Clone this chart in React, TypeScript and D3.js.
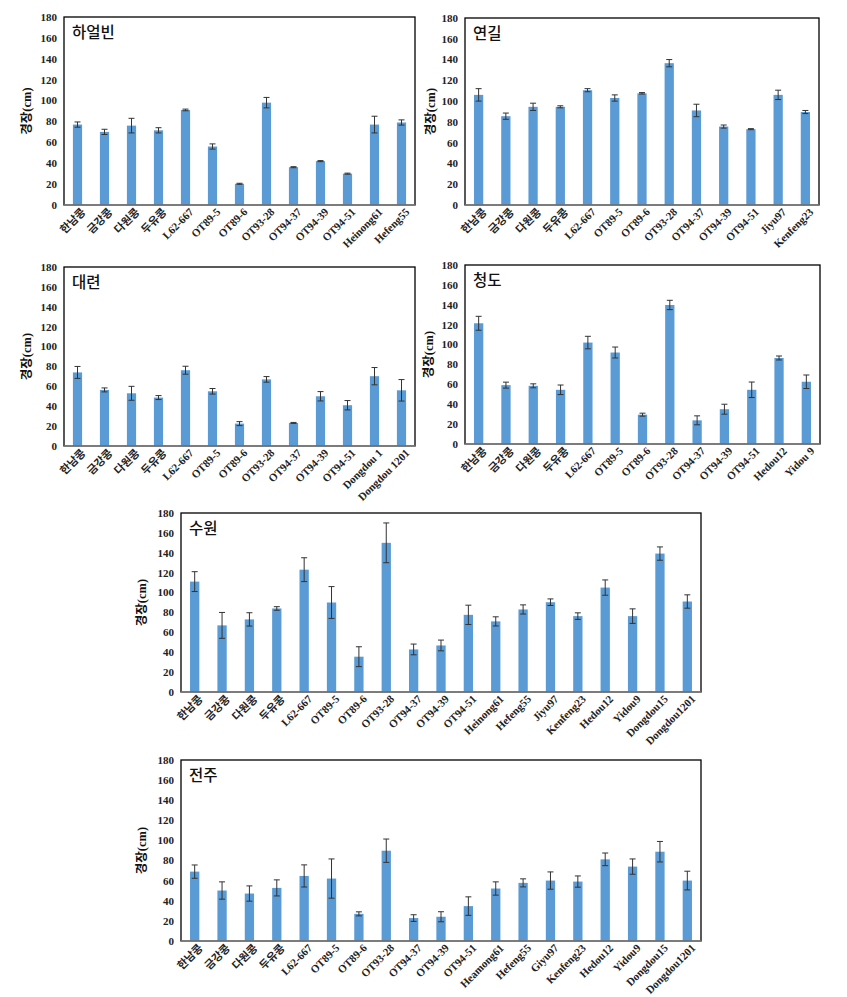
import React from "react";
import * as d3 from "d3";

const yTicks = [0, 20, 40, 60, 80, 100, 120, 140, 160, 180];

const cats1 = ["한남콩", "금강콩", "다원콩", "두유콩", "L62-667", "OT89-5", "OT89-6", "OT93-28", "OT94-37", "OT94-39", "OT94-51", "Heinong61", "Hefeng55"];
const vals1 = [77, 70, 76, 71.5, 91, 56, 20.3, 98, 36.2, 42, 30, 77, 79];
const errs1 = [2.5, 2.5, 7, 2.5, 0.8, 2.5, 0.5, 5, 0.5, 0.5, 0.5, 8, 2.5];

const cats2 = ["한남콩", "금강콩", "다원콩", "두유콩", "L62-667", "OT89-5", "OT89-6", "OT93-28", "OT94-37", "OT94-39", "OT94-51", "Jiyu97", "Kenfeng23"];
const vals2 = [106, 85.5, 94.5, 94.5, 110.5, 103, 107.5, 136.5, 91, 75.5, 73, 106, 89.5];
const errs2 = [6, 3, 3.5, 1, 1.5, 3, 0.7, 3.5, 6, 1.5, 0.5, 4.5, 1.5];

const cats3 = ["한남콩", "금강콩", "다원콩", "두유콩", "L62-667", "OT89-5", "OT89-6", "OT93-28", "OT94-37", "OT94-39", "OT94-51", "Dongdou 1", "Dongdou 1201"];
const vals3 = [74, 56.4, 53, 48.7, 76.2, 55, 22.5, 67, 23.2, 50, 41, 70.2, 56];
const errs3 = [6, 2, 7, 2, 4, 2.8, 2, 2.8, 0.5, 4.7, 4.7, 8.7, 10.8];

const cats4 = ["한남콩", "금강콩", "다원콩", "두유콩", "L62-667", "OT89-5", "OT89-6", "OT93-28", "OT94-37", "OT94-39", "OT94-51", "Hedou12", "Yidou 9"];
const vals4 = [121.4, 59.2, 58.5, 54.5, 102, 92, 29.5, 139.8, 23.8, 35, 54.5, 86.5, 62.6];
const errs4 = [7, 3, 2, 4.8, 6.3, 5.5, 1.5, 4.7, 4.5, 5, 7.8, 2, 6.8];

const cats5 = ["한남콩", "금강콩", "다원콩", "두유콩", "L62-667", "OT89-5", "OT89-6", "OT93-28", "OT94-37", "OT94-39", "OT94-51", "Heinong61", "Hefeng55", "Jiyu97", "Kenfeng23", "Hedou12", "Yidou9", "Dongdou15", "Dongdou1201"];
const vals5 = [111, 67, 73, 84, 123, 90, 35.5, 150, 42.8, 46.8, 77.6, 71, 83, 90.3, 76.3, 105, 76.3, 139.2, 91];
const errs5 = [10, 13, 6.7, 1.8, 12, 16, 10, 20, 5.4, 5.4, 9.7, 4.6, 4.6, 3.3, 3.3, 7.7, 7.3, 6.7, 6.7];

const cats6 = ["한남콩", "금강콩", "다원콩", "두유콩", "L62-667", "OT89-5", "OT89-6", "OT93-28", "OT94-37", "OT94-39", "OT94-51", "Heamong61", "Hefeng55", "Giyu97", "Kenfeng23", "Hedou12", "Yidou9", "Dongdou15", "Dongdou1201"];
const vals6 = [69, 50.2, 47.2, 52.8, 64.7, 62.1, 27, 89.8, 22.8, 24.1, 34.7, 52.2, 57.8, 60.1, 59.1, 81.2, 74, 88.8, 60.1];
const errs6 = [6.6, 8.6, 7.6, 8, 11, 19.5, 2, 11.6, 3.3, 5, 9.2, 6.6, 4, 8.6, 5.6, 6.3, 7.6, 10.2, 9.3];

const titles = ["하얼빈", "연길", "대련", "청도", "수원", "전주"];
const yLabel = "경장(cm)";

const panels = [
  { title: titles[0], cats: cats1, vals: vals1, errs: errs1, x: 64, y: 17, w: 351, h: 188, lx: 27 },
  { title: titles[1], cats: cats2, vals: vals2, errs: errs2, x: 465, y: 18, w: 354, h: 187, lx: 431 },
  { title: titles[2], cats: cats3, vals: vals3, errs: errs3, x: 64, y: 267, w: 351, h: 179, lx: 27 },
  { title: titles[3], cats: cats4, vals: vals4, errs: errs4, x: 465, y: 265, w: 355, h: 179, lx: 429 },
  { title: titles[4], cats: cats5, vals: vals5, errs: errs5, x: 181, y: 513, w: 520, h: 179, lx: 142 },
  { title: titles[5], cats: cats6, vals: vals6, errs: errs6, x: 181, y: 760, w: 520, h: 181, lx: 142 },
];

const BAR = "#5B9BD5";
const serif = "'Liberation Serif', 'Times New Roman', 'Noto Sans CJK KR', serif";
const sans = "'Noto Sans CJK KR', 'Noto Sans', sans-serif";

function Panel({ p }: { p: any }) {
  const x = d3.scaleBand<string>().domain(p.cats).range([0, p.w]).paddingInner(0.66).paddingOuter(0.33);
  const y = d3.scaleLinear().domain([0, 180]).range([p.h, 0]);
  const bw = x.bandwidth();
  return (
    <g transform={`translate(${p.x},${p.y})`}>
      {p.cats.map((c: string, i: number) => {
        const v = p.vals[i];
        const e = p.errs[i];
        const cx = (x(c) as number) + bw / 2;
        return (
          <g key={c + i}>
            <rect x={x(c)} y={y(v)} width={bw} height={p.h - y(v)} fill={BAR} />
            <line x1={cx} x2={cx} y1={y(v + e)} y2={y(v - e)} stroke="#333" strokeWidth={1} />
            <line x1={cx - 3} x2={cx + 3} y1={y(v + e)} y2={y(v + e)} stroke="#333" strokeWidth={1} />
            <line x1={cx - 3} x2={cx + 3} y1={y(v - e)} y2={y(v - e)} stroke="#333" strokeWidth={1} />
          </g>
        );
      })}
      <rect x={0} y={0} width={p.w} height={p.h} fill="none" stroke="#000" strokeWidth={1.3} />
      <line x1={0} x2={p.w} y1={p.h} y2={p.h} stroke="#888" strokeWidth={1.3} />
      {yTicks.map((t) => (
        <text key={t} x={-7} y={y(t)} dy="0.35em" textAnchor="end" fontFamily={serif} fontWeight="bold" fontSize={11} fill="#222">
          {t}
        </text>
      ))}
      {p.cats.map((c: string, i: number) => {
        const cx = (x(c) as number) + bw / 2 + 6;
        return (
          <text key={"l" + i} transform={`translate(${cx},${p.h + 5}) rotate(-45)`} textAnchor="end" dy="0.35em" fontFamily={serif} fontWeight="bold" fontSize={11} fill="#222">
            {c}
          </text>
        );
      })}
      <text x={8} y={21} fontFamily={sans} fontSize={15.5} fontWeight={500} fill="#111">
        {p.title}
      </text>
      <text transform={`translate(${p.lx - p.x},${p.h / 2}) rotate(-90)`} textAnchor="middle" dy="0.35em" fontFamily={serif} fontWeight="bold" fontSize={12.5} fill="#111">
        {yLabel}
      </text>
    </g>
  );
}

export default function App() {
  return (
    <svg width={847} height={997} style={{ position: "absolute", left: 0, top: 0, background: "#fff" }}>
      <rect width={847} height={997} fill="#fff" />
      {panels.map((p, i) => (
        <Panel key={i} p={p} />
      ))}
    </svg>
  );
}
